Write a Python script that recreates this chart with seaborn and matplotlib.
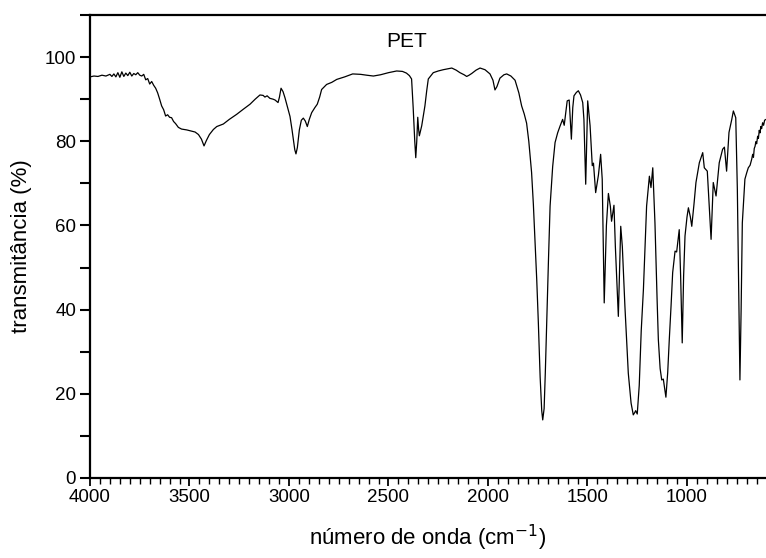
import numpy as np
import pandas as pd
import matplotlib
matplotlib.use("Agg")
import matplotlib.pyplot as plt
import seaborn as sns
from matplotlib.ticker import MultipleLocator

# spectrum: wavenumber (cm-1) and transmittance (%)
wavenumber = [
    4000, 3980, 3960, 3940, 3920, 3900, 3890, 3880, 3870, 3860, 3850, 3840,
    3830, 3820, 3810, 3800, 3790, 3780, 3770, 3760, 3750, 3740, 3730, 3720,
    3710, 3700, 3690, 3680, 3670, 3660, 3650, 3640, 3630, 3620, 3610, 3600,
    3590, 3580, 3570, 3556, 3540, 3514, 3490, 3472, 3455, 3440, 3427, 3415,
    3400, 3380, 3363, 3330, 3300, 3263, 3230, 3196, 3170, 3146, 3130, 3121,
    3110, 3096, 3080, 3070, 3055, 3048, 3040, 3030, 3020, 3008, 2995, 2985,
    2978, 2971, 2965, 2958, 2948, 2938, 2928, 2918, 2908, 2898, 2886, 2870,
    2858, 2846, 2836, 2811, 2785, 2760, 2720, 2680, 2640, 2610, 2576, 2540,
    2500, 2459, 2430, 2410, 2395, 2384, 2376, 2368, 2363, 2358, 2353, 2349,
    2345, 2339, 2333, 2317, 2308, 2300, 2275, 2250, 2225, 2182, 2160, 2141,
    2120, 2107, 2095, 2082, 2060, 2040, 2015, 1990, 1975, 1965, 1955, 1940,
    1920, 1906, 1885, 1864, 1845, 1831, 1818, 1806, 1795, 1781, 1772, 1764,
    1755, 1747, 1738, 1730, 1725, 1718, 1712, 1705, 1696, 1688, 1675, 1663,
    1650, 1638, 1625, 1617, 1602, 1592, 1581, 1574, 1568, 1556, 1546, 1535,
    1524, 1518, 1509, 1499, 1487, 1476, 1470, 1459, 1445, 1434, 1426, 1416,
    1405, 1395, 1385, 1379, 1367, 1360, 1345, 1333, 1325, 1312, 1295, 1281,
    1270, 1262, 1258, 1250, 1240, 1230, 1219, 1203, 1189, 1181, 1172, 1161,
    1150, 1144, 1135, 1127, 1119, 1106, 1097, 1089, 1080, 1072, 1060, 1052,
    1039, 1032, 1024, 1017, 1010, 1000, 993, 983, 976, 965, 955, 938,
    921, 913, 898, 890, 879, 868, 854, 838, 821, 812, 801, 789,
    775, 767, 755, 747, 740, 734, 728, 722, 709, 700, 692, 683,
    675, 670, 666, 662, 658, 654, 650, 645, 641, 637, 633, 629,
    625, 620, 615, 610, 603,
]
transmittance = [
    95.3, 95.5, 95.4, 95.7, 95.5, 95.9, 95.4, 96.0, 95.3, 96.3, 95.2, 96.5,
    95.4, 96.2, 95.6, 96.4, 95.5, 96.1, 95.8, 96.3, 95.7, 95.5, 95.9, 94.6,
    94.9, 93.6, 94.2, 93.3, 92.6, 91.5, 90.0, 88.4, 87.5, 86.0, 86.3, 85.7,
    85.6, 84.7, 84.2, 83.3, 82.9, 82.7, 82.4, 82.2, 81.6, 80.5, 78.9, 80.2,
    81.6, 82.8, 83.5, 84.1, 85.2, 86.4, 87.6, 88.8, 90.0, 91.0, 90.9, 90.5,
    90.8, 90.2, 90.0, 89.8, 89.2, 90.5, 92.6, 91.8, 90.3, 88.2, 85.9, 82.8,
    80.3, 78.0, 77.0, 78.5, 82.7, 85.0, 85.5, 84.8, 83.5, 85.2, 86.8, 88.0,
    88.8, 90.5, 92.3, 93.5, 94.0, 94.7, 95.3, 96.0, 95.9, 95.7, 95.5, 95.8,
    96.3, 96.7, 96.6, 96.2, 95.6, 94.8, 88.0, 80.0, 76.1, 80.0, 85.7, 83.0,
    81.3, 82.5, 83.7, 88.4, 92.0, 94.8, 96.3, 96.7, 97.0, 97.4, 96.9, 96.3,
    95.8, 95.4, 95.7, 96.1, 96.9, 97.4, 97.0, 96.0, 94.5, 92.2, 93.0, 95.0,
    95.8, 96.0, 95.5, 94.5, 91.5, 88.4, 86.5, 84.3, 80.0, 72.6, 65.0, 56.7,
    47.0, 36.9, 24.0, 16.0, 13.8, 16.5, 25.0, 36.9, 52.0, 64.6, 74.0, 79.7,
    82.0, 83.6, 85.2, 83.8, 89.6, 89.8, 80.5, 88.0, 90.8, 91.6, 92.0, 91.0,
    89.2, 85.2, 69.8, 89.6, 83.7, 74.2, 74.8, 67.8, 72.0, 76.9, 71.0, 41.6,
    60.0, 67.6, 64.5, 61.0, 64.8, 55.0, 38.4, 59.8, 55.0, 40.8, 24.9, 17.8,
    15.0, 15.6, 16.0, 15.2, 22.0, 35.0, 44.8, 64.6, 71.7, 69.0, 73.7, 60.6,
    42.0, 32.9, 26.0, 23.3, 23.5, 19.2, 25.0, 32.9, 41.0, 48.8, 53.9, 53.7,
    59.0, 48.0, 32.1, 48.0, 57.5, 62.0, 64.2, 62.0, 59.8, 65.0, 70.2, 74.9,
    77.3, 73.7, 72.9, 66.0, 56.7, 70.2, 67.0, 74.9, 78.1, 78.6, 72.9, 82.1,
    85.2, 87.2, 85.6, 68.6, 45.0, 23.3, 40.0, 60.6, 71.0, 72.5, 73.7, 74.3,
    75.7, 76.9, 76.2, 78.3, 78.8, 79.9, 79.4, 81.2, 80.7, 82.6, 82.0, 83.5,
    83.0, 84.4, 83.8, 85.0, 85.2,
]

df = pd.DataFrame({"wn": wavenumber, "T": transmittance})

sns.set_theme(style="ticks")
plt.rcParams["font.family"] = ["Liberation Sans", "DejaVu Sans"]
plt.rcParams["text.color"] = "black"
plt.rcParams["axes.labelcolor"] = "black"

fig = plt.figure(figsize=(7.66, 5.58), dpi=100)
ax = fig.add_axes([90/766, 80/558, 676/766, 463/558])

sns.lineplot(data=df, x="wn", y="T", sort=False, estimator=None,
             color="black", linewidth=0.9, ax=ax)

ax.set_xlim(4000, 603)
ax.set_ylim(0, 110)
ax.xaxis.set_major_locator(MultipleLocator(500))
ax.xaxis.set_minor_locator(MultipleLocator(50))
ax.yaxis.set_major_locator(MultipleLocator(20))
ax.yaxis.set_minor_locator(MultipleLocator(10))
ax.tick_params(axis="x", which="major", direction="out", length=6, width=1.3,
               labelsize=13.5, pad=2, colors="black")
ax.tick_params(axis="x", which="minor", direction="out", length=4, width=1.0,
               colors="black")
ax.tick_params(axis="y", which="both", direction="out", length=7, width=1.5,
               labelsize=13.5, pad=3, colors="black")

for side in ["left", "bottom", "top"]:
    ax.spines[side].set_visible(True)
    ax.spines[side].set_linewidth(1.6)
    ax.spines[side].set_color("black")
ax.spines["right"].set_visible(False)

ax.set_xlabel("número de onda (cm$^{-1}$)", fontsize=16, labelpad=12)
ax.set_ylabel("transmitância (%)", fontsize=16, labelpad=9)
ax.text(2407, 103.8, "PET", fontsize=15, ha="center", va="center",
        color="black")

fig.savefig("out.png", dpi=100)
